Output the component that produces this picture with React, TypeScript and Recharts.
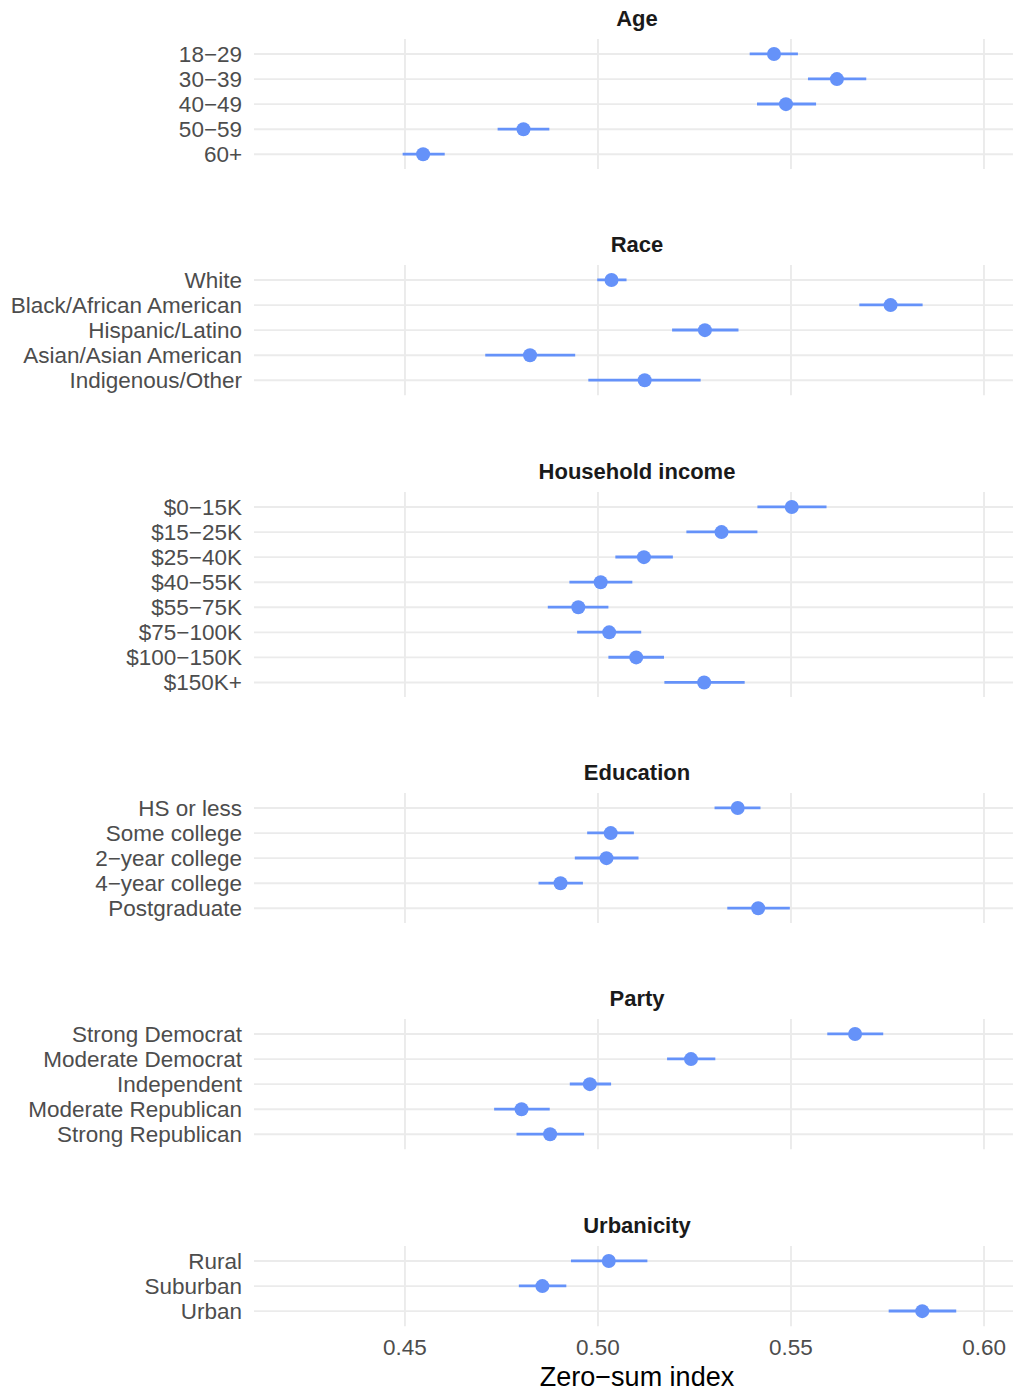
import React from 'react';
import { ComposedChart, Bar, Line, XAxis, YAxis, CartesianGrid } from 'recharts';

// Age
const ageLabels = ['18−29', '30−39', '40−49', '50−59', '60+'];
const ageEst = [0.5456, 0.5619, 0.5487, 0.4807, 0.4547];
const ageLow = [0.5393, 0.5544, 0.5412, 0.474, 0.4494];
const ageHigh = [0.5518, 0.5695, 0.5565, 0.4874, 0.4603];

// Race
const raceLabels = ['White', 'Black/African American', 'Hispanic/Latino', 'Asian/Asian American', 'Indigenous/Other'];
const raceEst = [0.5035, 0.5758, 0.5277, 0.4824, 0.5121];
const raceLow = [0.4998, 0.5677, 0.5192, 0.4708, 0.4975];
const raceHigh = [0.5074, 0.5841, 0.5364, 0.4941, 0.5266];

// Household income
const incomeLabels = ['$0−15K', '$15−25K', '$25−40K', '$40−55K', '$55−75K', '$75−100K', '$100−150K', '$150K+'];
const incomeEst = [0.5502, 0.532, 0.5119, 0.5007, 0.4949, 0.5029, 0.5099, 0.5275];
const incomeLow = [0.5413, 0.5229, 0.5045, 0.4926, 0.487, 0.4946, 0.5027, 0.5172];
const incomeHigh = [0.5592, 0.5413, 0.5194, 0.5089, 0.5027, 0.5112, 0.5171, 0.538];

// Education
const eduLabels = ['HS or less', 'Some college', '2−year college', '4−year college', 'Postgraduate'];
const eduEst = [0.5362, 0.5033, 0.5022, 0.4903, 0.5415];
const eduLow = [0.5302, 0.4972, 0.494, 0.4846, 0.5335];
const eduHigh = [0.5421, 0.5093, 0.5105, 0.4961, 0.5497];

// Party
const partyLabels = ['Strong Democrat', 'Moderate Democrat', 'Independent', 'Moderate Republican', 'Strong Republican'];
const partyEst = [0.5666, 0.5241, 0.4979, 0.4802, 0.4876];
const partyLow = [0.5594, 0.5179, 0.4927, 0.4731, 0.4789];
const partyHigh = [0.5739, 0.5304, 0.5034, 0.4875, 0.4964];

// Urbanicity
const urbanLabels = ['Rural', 'Suburban', 'Urban'];
const urbanEst = [0.5028, 0.4856, 0.584];
const urbanLow = [0.493, 0.4795, 0.5753];
const urbanHigh = [0.5128, 0.4918, 0.5928];

const xTicks = [0.45, 0.5, 0.55, 0.6];

const BLUE = '#6592F9';
const GRID = '#EBEBEB';
const ROW = 25.06;
const AXIS_H = 36;
const FONT = '"Liberation Sans", Arial, Helvetica, sans-serif';

const panels = [
  { title: 'Age', labels: ageLabels, est: ageEst, low: ageLow, high: ageHigh },
  { title: 'Race', labels: raceLabels, est: raceEst, low: raceLow, high: raceHigh },
  { title: 'Household income', labels: incomeLabels, est: incomeEst, low: incomeLow, high: incomeHigh },
  { title: 'Education', labels: eduLabels, est: eduEst, low: eduLow, high: eduHigh },
  { title: 'Party', labels: partyLabels, est: partyEst, low: partyLow, high: partyHigh },
  { title: 'Urbanicity', labels: urbanLabels, est: urbanEst, low: urbanLow, high: urbanHigh },
];

type PanelData = (typeof panels)[number];

const Panel = ({ panel, first, last }: { panel: PanelData; first: boolean; last: boolean }) => {
  const rows = panel.labels.map((label, i) => ({
    label,
    est: panel.est[i],
    ci: [panel.low[i], panel.high[i]],
  }));
  const plotH = (rows.length + 0.2) * ROW;

  return (
    <div style={{ marginTop: first ? 0 : 57 }}>
      <div
        style={{
          height: 39,
          lineHeight: '37px',
          paddingLeft: 261,
          textAlign: 'center',
          fontWeight: 'bold',
          fontSize: 22,
          color: '#1A1A1A',
        }}
      >
        {panel.title}
      </div>
      <ComposedChart
        layout="vertical"
        width={1013}
        height={plotH + (last ? AXIS_H : 0)}
        data={rows}
        margin={{ top: 0, right: 0, bottom: 0, left: 0 }}
      >
        <CartesianGrid stroke={GRID} strokeWidth={1.9} syncWithTicks />
        <XAxis
          type="number"
          domain={[0.4109, 0.6075]}
          ticks={xTicks}
          allowDataOverflow
          hide={!last}
          height={AXIS_H}
          axisLine={false}
          tickLine={false}
          tickSize={6}
          tickMargin={7}
          tick={{ fill: '#4D4D4D', fontSize: 22.5 }}
          tickFormatter={(v: number) => v.toFixed(2)}
        />
        <YAxis
          type="category"
          dataKey="label"
          width={254}
          axisLine={false}
          tickLine={false}
          tickSize={6}
          tickMargin={6}
          interval={0}
          padding={{ top: ROW * 0.1, bottom: ROW * 0.1 }}
          tick={{ fill: '#4D4D4D', fontSize: 22.5 }}
        />
        <Bar dataKey="ci" fill={BLUE} barSize={2.8} isAnimationActive={false} />
        <Line
          dataKey="est"
          stroke="none"
          dot={{ r: 7, fill: BLUE, stroke: 'none' }}
          activeDot={false}
          isAnimationActive={false}
        />
      </ComposedChart>
    </div>
  );
};

export default function App() {
  return (
    <div
      style={{
        position: 'absolute',
        left: 0,
        top: 0,
        width: 1013,
        height: 1391,
        background: '#fff',
        fontFamily: FONT,
      }}
    >
      {panels.map((p, i) => (
        <Panel key={p.title} panel={p} first={i === 0} last={i === panels.length - 1} />
      ))}
      <div
        style={{
          height: 30,
          lineHeight: '30px',
          paddingLeft: 261,
          textAlign: 'center',
          fontSize: 27,
          color: '#000',
        }}
      >
        Zero−sum index
      </div>
    </div>
  );
}
